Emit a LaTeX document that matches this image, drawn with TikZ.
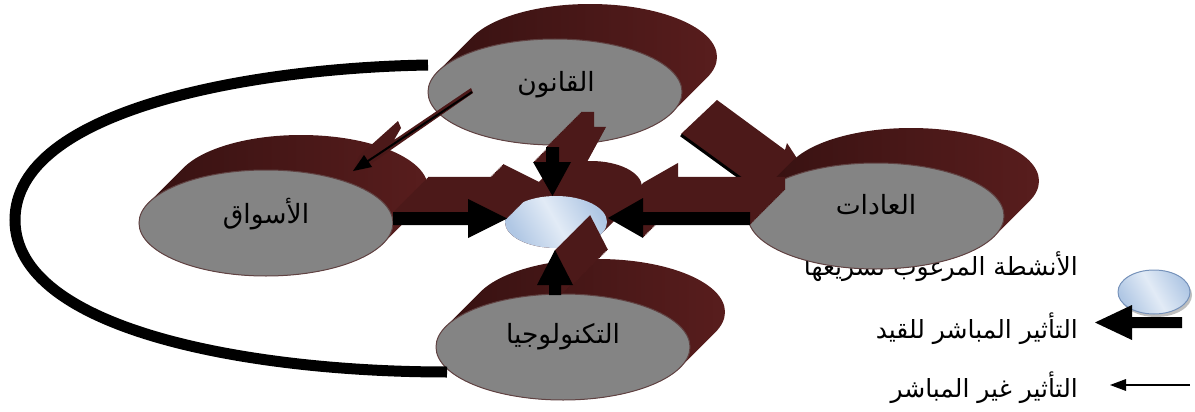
\documentclass[tikz,border=0pt]{standalone}
\usepackage{fontspec}
\usetikzlibrary{shapes.geometric,calc}
\newfontfamily\arabicfont[Script=Arabic]{DejaVu Sans}
\TeXXeTstate=1
\definecolor{maroonD}{RGB}{54,17,17}
\definecolor{maroonM}{RGB}{76,25,25}
\definecolor{maroonL}{RGB}{88,29,29}
\definecolor{faceG}{RGB}{132,132,132}
\definecolor{faceB}{RGB}{96,66,66}
\definecolor{blueL}{RGB}{226,235,246}
\definecolor{blueD}{RGB}{176,199,228}
\definecolor{blueE}{RGB}{118,146,186}
\tikzset{
  x=1pt, y=-1pt,
  face/.style={ellipse, fill=faceG, draw=faceB, line width=1pt, inner sep=0pt},
  lbl/.style={font=\arabicfont\fontsize{26.5}{30}\selectfont, anchor=base, inner sep=0pt},
  leg/.style={font=\arabicfont\fontsize{25}{29}\selectfont, anchor=base east, inner sep=0pt},
  bluecore/.style={ellipse, inner sep=0pt, draw=none, shading=axis, left color=blueD, right color=blueD, middle color=blueL, shading angle=-60},
}
% extruded (swept) ellipse body
\newcommand{\extr}[4]{%
  \path[left color=maroonD, right color=maroonL]
    \foreach \t in {0,0.025,...,1.001} { ({#1+35*\t},{#2-35*\t}) ellipse [x radius=#3pt, y radius=#4pt] };}
% extruded block arrow: sweep then black front
\newcommand{\barrow}[1]{%
  \foreach \t in {0.025,0.05,...,1.001} { \fill[maroonM, shift={(35*\t,-35*\t)}] #1; }
  \fill[black] #1;}
\begin{document}
\begin{tikzpicture}
\useasboundingbox (0,0) rectangle (1195,412);

% legend text under the right ellipse
\node[leg] (legA) at (1078,275) {\beginR الأنشطة المرغوب تسريعها\endR};

% Law
\extr{555}{92}{127}{53}
\node[face, minimum width=254pt, minimum height=106pt] (qanun) at (555,92) {};
\node[lbl] (qanunT) at (556,92) {\beginR القانون\endR};

% big diagonal arrow law -> customs
\fill[maroonM] (681,134) -- (717,100) -- (785,150) -- (787,143) -- (802,166) -- (792,196) -- (745,182) -- cycle;
\draw[black, line width=3pt] (681,135) -- (743,180);

% Markets
\extr{266}{223}{127}{53}
\node[face, minimum width=254pt, minimum height=106pt] (aswaq) at (266,223) {};
\node[lbl] (aswaqT) at (266,223) {\beginR الأسواق\endR};

% Customs
\extr{876}{216}{128}{53}
\node[face, minimum width=256pt, minimum height=106pt] (adat) at (876,216) {};
\node[lbl] (adatT) at (876,214) {\beginR العادات\endR};

% Technology
\extr{563}{347}{127}{53}
\node[face, minimum width=254pt, minimum height=106pt] (tech) at (563,347) {};
\node[lbl] (techT) at (563,343) {\beginR التكنولوجيا\endR};

% centre
\path[fill=maroonM] \foreach \t in {0,0.025,...,1.001} { ({556+35*\t},{222-35*\t}) ellipse [x radius=51pt, y radius=26pt] };
\node[bluecore, minimum width=102pt, minimum height=52pt] (core) at (556,222) {};

% thin arrow law -> markets
\fill[maroonM] (353,171) -- (359,156) -- (398,121) -- (401,128) -- (394,140) -- (471,88) -- (473,93) -- (372,163) -- cycle;
\draw[black, line width=2pt] (472,92) -- (362,165);
\fill[black] (353,171) -- (364,155) -- (372,167) -- cycle;

% block arrows into the centre
\barrow{(393,212) -- (468,212) -- (468,199) -- (507,218.5) -- (468,238) -- (468,225) -- (393,225) -- cycle}
\barrow{(750,212) -- (643,212) -- (643,198) -- (608,218) -- (643,238) -- (643,225) -- (750,225) -- cycle}
\barrow{(546,147) -- (559,147) -- (559,162) -- (571,162) -- (552.5,196) -- (533,162) -- (546,162) -- cycle}
\barrow{(549,295) -- (561,295) -- (561,285) -- (573,285) -- (555,250) -- (537,285) -- (549,285) -- cycle}

% outer arc markets/technology feedback
\coordinate (arcA) at (428,65);
\coordinate (arcL) at (15,220);
\coordinate (arcB) at (447,372);
\draw[line width=11pt] (arcA) .. controls (250,68) and (15,110) .. (arcL) .. controls (15,330) and (250,372) .. (arcB);

% legend
\fill[black!25] (1156,295) ellipse [x radius=36pt, y radius=22pt];
\node[bluecore, draw=blueE, line width=1pt, minimum width=72pt, minimum height=44pt] (legCore) at (1154,292) {};
\node[leg] (legB) at (1078,338) {\beginR التأثير المباشر للقيد\endR};
\fill[black] (1095,322.5) -- (1132,305) -- (1132,317) -- (1182,317) -- (1182,328) -- (1132,328) -- (1132,340) -- cycle;
\node[leg] (legC) at (1078,397) {\beginR التأثير غير المباشر\endR};
\coordinate (thinS) at (1190,385);
\coordinate (thinE) at (1124,385);
\draw[line width=1.5pt] (thinS) -- (thinE);
\fill[black] (1110,385) -- (1126,379) -- (1126,391) -- cycle;
\end{tikzpicture}
\end{document}
